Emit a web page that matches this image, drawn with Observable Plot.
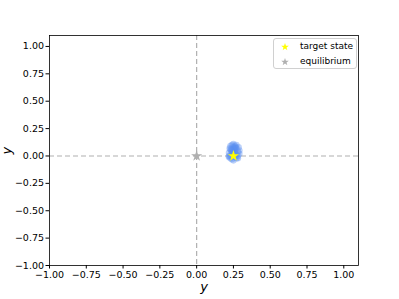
<!DOCTYPE html>
<html><head><meta charset="utf-8">
<script src="https://cdn.jsdelivr.net/npm/d3@7"></script>
<script src="https://cdn.jsdelivr.net/npm/@observablehq/plot@0.6"></script>
<style>
body{margin:0;background:#fff;font-family:"DejaVu Sans",sans-serif;}
#wrap{position:relative;width:399px;height:299px;}
#legend{position:absolute;left:273px;top:38px;width:82px;height:29px;border:1px solid #d0d0d0;border-radius:3px;background:rgba(255,255,255,0.8);font-size:9px;color:#000;}
#legend div{position:absolute;left:26px;white-space:nowrap;}
#legend svg{position:absolute;left:0;top:0;}
</style>
</head><body>
<div id="wrap"></div>
<script>
const ticks = [-1, -0.75, -0.5, -0.25, 0, 0.25, 0.5, 0.75, 1];
const cloudX = [0.24,0.26,0.25,0.23,0.27,0.28,0.22,0.24,0.26,0.25,0.23,0.27,0.29,0.24,0.26,0.25,0.22,0.28,0.25,0.24,0.26,0.23,0.27,0.25,0.24,0.26,0.28,0.23,0.25,0.27,0.245,0.255,0.235,0.265,0.225,0.285,0.22,0.29];
const cloudY = [0.02,0.05,0.08,0.00,-0.02,0.04,0.03,-0.03,0.09,0.01,0.06,0.07,0.02,0.10,-0.01,0.04,-0.01,0.00,-0.04,0.06,0.03,0.09,0.10,0.11,0.04,0.07,-0.02,-0.02,0.06,0.01,0.03,0.02,0.05,0.08,0.07,0.08,0.0,0.05];
const targetState = [{x: 0.25, y: 0}];
const equilibrium = [{x: 0, y: 0}];
const legendLabels = ["target state", "equilibrium"];
const cloud = cloudX.map((x, i) => ({x, y: cloudY[i]}));
const fmt = d => d.toFixed(2).replace("-", "\u2212");

const chart = Plot.plot({
  width: 399, height: 299,
  marginLeft: 49, marginRight: 41, marginTop: 35, marginBottom: 34,
  style: {fontFamily: "DejaVu Sans, sans-serif", fontSize: "9.5px", color: "#000"},
  x: {domain: [-1, 1.1], ticks, tickFormat: fmt, label: null},
  y: {domain: [-1, 1.1], ticks, tickFormat: fmt, label: null},
  marks: [
    Plot.ruleX([0], {stroke: "#b0b0b0", strokeDasharray: "5,3", strokeWidth: 1.2}),
    Plot.ruleY([0], {stroke: "#b0b0b0", strokeDasharray: "5,3", strokeWidth: 1.2}),
    Plot.dot(cloud, {x: "x", y: "y", r: 3.3, fill: "#5a8ef0", fillOpacity: 0.4, stroke: "none"}),
    Plot.dot(equilibrium, {x: "x", y: "y", symbol: "star", r: 3.5, fill: "#b0b0b0", stroke: "none"}),
    Plot.dot(targetState, {x: "x", y: "y", symbol: "star", r: 3.5, fill: "#ffff00", stroke: "none"}),
    Plot.axisX({ticks, tickFormat: fmt, tickSize: 3.5, tickPadding: 2, label: null}),
    Plot.axisY({ticks, tickFormat: fmt, tickSize: 3.5, tickPadding: 2, label: null}),
    Plot.frame({stroke: "#000", strokeWidth: 0.8}),
    Plot.text(["y"], {frameAnchor: "bottom", dy: 25, fontSize: 13, fontStyle: "italic"}),
    Plot.text(["y"], {frameAnchor: "left", dx: -43, dy: 4, fontSize: 13, fontStyle: "italic", rotate: -90})
  ]
});
const wrap = document.getElementById("wrap");
wrap.appendChild(chart);

const legend = document.createElement("div");
legend.id = "legend";
const colors = ["#ffff00", "#b0b0b0"];
const star = (cx, cy, r) => {
  let pts = [];
  for (let i = 0; i < 10; i++) {
    const a = -Math.PI / 2 + i * Math.PI / 5;
    const rr = i % 2 ? r * 0.4 : r;
    pts.push((cx + rr * Math.cos(a)).toFixed(2) + "," + (cy + rr * Math.sin(a)).toFixed(2));
  }
  return pts.join(" ");
};
let svg = '<svg width="26" height="29">';
legendLabels.forEach((l, i) => {
  svg += `<polygon points="${star(11, 8 + i * 15, 4)}" fill="${colors[i]}"/>`;
});
svg += '</svg>';
legend.innerHTML = svg + legendLabels.map((l, i) => `<div style="top:${1.5 + i * 15}px">${l}</div>`).join("");
wrap.appendChild(legend);
</script>
</body></html>
